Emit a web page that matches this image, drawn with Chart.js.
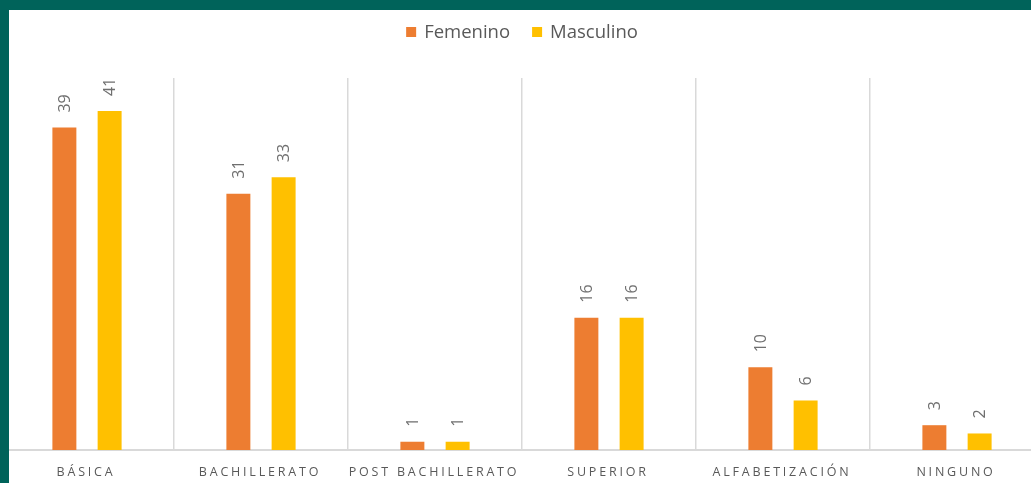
<!DOCTYPE html>
<html>
<head>
<meta charset="utf-8">
<script src="https://cdn.jsdelivr.net/npm/chart.js@4/dist/chart.umd.min.js"></script>
<style>
  body { margin: 0; background: #fff; }
  #wrap { position: relative; width: 1031px; height: 483px; overflow: hidden; background: #fff; }
  #chart { position: absolute; left: 0; top: 0; }
  .edge { position: absolute; background: #00635a; z-index: 2; }
</style>
</head>
<body>
<div id="wrap">
  <canvas id="chart" width="1044" height="483"></canvas>
  <div class="edge" style="left:0;top:0;width:1031px;height:10px"></div>
  <div class="edge" style="left:0;top:0;width:9px;height:483px"></div>
</div>
<script>
const categories = ['BÁSICA', 'BACHILLERATO', 'POST BACHILLERATO', 'SUPERIOR', 'ALFABETIZACIÓN', 'NINGUNO'];
const femenino = [39, 31, 1, 16, 10, 3];
const masculino = [41, 33, 1, 16, 6, 2];
const yMax = 45;

const FONT = '"Open Sans", "Noto Sans", sans-serif';
const GREY = '#595959';

// value labels, rotated, above each bar
const valueLabels = {
    id: 'valueLabels',
    afterDatasetsDraw(chart) {
        const ctx = chart.ctx;
        ctx.save();
        ctx.font = '16px ' + FONT;
        ctx.fillStyle = '#6f6f6f';
        chart.data.datasets.forEach((ds, i) => {
            chart.getDatasetMeta(i).data.forEach((bar, j) => {
                ctx.save();
                ctx.translate(bar.x, bar.y - 15);
                ctx.rotate(-Math.PI / 2);
                ctx.textAlign = 'left';
                ctx.textBaseline = 'middle';
                ctx.fillText(String(ds.data[j]), 0, 1);
                ctx.restore();
            });
        });
        ctx.restore();
    },
};

// spaced-out category labels under the axis
const categoryLabels = {
    id: 'categoryLabels',
    afterDraw(chart) {
        const ctx = chart.ctx;
        const scale = chart.scales.x;
        ctx.save();
        ctx.font = '12.5px ' + FONT;
        ctx.letterSpacing = '2.8px';
        ctx.fillStyle = GREY;
        ctx.textAlign = 'center';
        ctx.textBaseline = 'middle';
        chart.data.labels.forEach((label, i) => {
            ctx.fillText(label, scale.getPixelForTick(i) - 1, chart.chartArea.bottom + 22);
        });
        ctx.restore();
    },
};

// legend row at the top, centred
const topLegend = {
    id: 'topLegend',
    afterDraw(chart) {
        const ctx = chart.ctx;
        ctx.save();
        ctx.font = '18.5px ' + FONT;
        ctx.textBaseline = 'middle';
        const box = 10, gap = 8, itemGap = 22, y = 32;
        const items = chart.data.datasets.map(ds => ({
            label: ds.label,
            color: ds.backgroundColor,
            w: ctx.measureText(ds.label).width,
        }));
        const total = items.reduce((s, it) => s + box + gap + it.w, 0) + itemGap * (items.length - 1);
        let x = chart.width / 2 - total / 2;
        items.forEach(it => {
            ctx.fillStyle = it.color;
            ctx.fillRect(x, y - box / 2, box, box);
            x += box + gap;
            ctx.fillStyle = GREY;
            ctx.fillText(it.label, x, y + 1);
            x += it.w + itemGap;
        });
        ctx.restore();
    },
};

new Chart(document.getElementById('chart'), {
    type: 'bar',
    data: {
        labels: categories,
        datasets: [
            { label: 'Femenino', data: femenino, backgroundColor: '#ED7D31' },
            { label: 'Masculino', data: masculino, backgroundColor: '#FFC000' },
        ],
    },
    options: {
        responsive: false,
        animation: false,
        devicePixelRatio: 1,
        layout: { padding: { top: 78, bottom: 33, left: 0, right: 0 } },
        datasets: {
            bar: { categoryPercentage: 0.52, barPercentage: 0.53 },
        },
        plugins: {
            legend: { display: false },
            tooltip: { enabled: false },
        },
        scales: {
            x: {
                grid: { color: '#d9d9d9', lineWidth: 1.5, drawTicks: false, offset: true },
                border: { color: '#d9d9d9', width: 2 },
                ticks: { display: false },
            },
            y: {
                display: false,
                min: 0,
                max: yMax,
            },
        },
    },
    plugins: [valueLabels, categoryLabels, topLegend],
});
</script>
</body>
</html>
